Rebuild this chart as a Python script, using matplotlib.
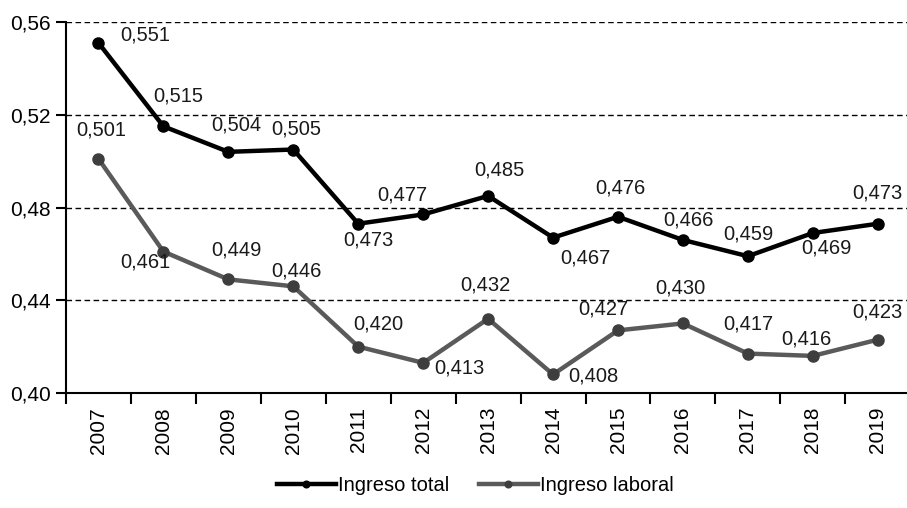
import matplotlib
matplotlib.use("Agg")
import matplotlib.pyplot as plt
from matplotlib.ticker import FixedLocator, NullFormatter

plt.rcParams['font.family'] = ['Liberation Sans', 'DejaVu Sans']

years = ["2007", "2008", "2009", "2010", "2011", "2012", "2013",
         "2014", "2015", "2016", "2017", "2018", "2019"]
ingreso_total = [0.551, 0.515, 0.504, 0.505, 0.473, 0.477, 0.485,
                 0.467, 0.476, 0.466, 0.459, 0.469, 0.473]
ingreso_laboral = [0.501, 0.461, 0.449, 0.446, 0.420, 0.413, 0.432,
                   0.408, 0.427, 0.430, 0.417, 0.416, 0.423]
y_ticks = [0.40, 0.44, 0.48, 0.52, 0.56]

# label offsets in pixels (dx, dy) for each point
off_total = [(47, 8), (15, 30), (8, 27), (3, 21), (10, -16), (-21, 19), (11, 26),
             (32, -20), (2, 29), (5, 20), (0, 22), (14, -15), (0, 31)]
off_laboral = [(3, 29), (-18, -10), (8, 29), (3, 15), (20, 23), (36, -5), (-3, 34),
               (40, -2), (-15, 21), (-3, 35), (0, 30), (-6, 17), (0, 28)]

W, H = 907, 508
fig = plt.figure(figsize=(W / 100, H / 100), dpi=100)
left, right = 66 / W, 907 / W
bottom, top = 1 - 393 / H, 1 - 22 / H
ax = fig.add_axes([left, bottom, right - left, top - bottom])

x = list(range(len(years)))
ax.plot(x, ingreso_total, color="black", lw=3.2, marker="o", ms=8,
        mfc="black", mec="black", label="Ingreso total", zorder=3)
ax.plot(x, ingreso_laboral, color="#5a5a5a", lw=3.2, marker="o", ms=8,
        mfc="#3e3e3e", mec="#3e3e3e", label="Ingreso laboral", zorder=3)

fs_lab = 14.5
fs_tick = 15
for xi, v, (dx, dy) in zip(x, ingreso_total, off_total):
    ax.annotate(f"{v:.3f}".replace(".", ","), (xi, v), xytext=(dx, dy),
                textcoords="offset pixels", ha="center", va="center",
                fontsize=fs_lab, color="#1a1a1a", zorder=4)
for xi, v, (dx, dy) in zip(x, ingreso_laboral, off_laboral):
    ax.annotate(f"{v:.3f}".replace(".", ","), (xi, v), xytext=(dx, dy),
                textcoords="offset pixels", ha="center", va="center",
                fontsize=fs_lab, color="#1a1a1a", zorder=4)

ax.set_xlim(-0.5, 12.45)
ax.set_ylim(0.40, 0.56)
ax.set_yticks(y_ticks)
ax.set_yticklabels([f"{t:.2f}".replace(".", ",") for t in y_ticks], fontsize=fs_tick)
ax.yaxis.grid(True, color="black", ls=(0, (4, 2.5)), lw=1.0)
ax.set_axisbelow(True)

ax.set_xticks(x)
ax.set_xticklabels(years, rotation=90, fontsize=fs_tick)
ax.tick_params(axis="x", length=0, pad=10)
ax.xaxis.set_minor_locator(FixedLocator([i - 0.5 for i in range(13)]))
ax.xaxis.set_minor_formatter(NullFormatter())
ax.tick_params(axis="x", which="minor", length=8, width=1.5, color="black", direction="out")
ax.tick_params(axis="y", length=7, width=1.5, color="black", pad=4)

for s in ["top", "right"]:
    ax.spines[s].set_visible(False)
ax.spines["left"].set_linewidth(1.5)
ax.spines["bottom"].set_linewidth(1.5)

fig.legend(loc="lower center", bbox_to_anchor=(0.524, -0.01), ncol=2, frameon=False,
           fontsize=fs_lab, handlelength=2.9, handletextpad=0.1, columnspacing=1.5,
           markerscale=0.6)

fig.savefig("out.png", dpi=100)
